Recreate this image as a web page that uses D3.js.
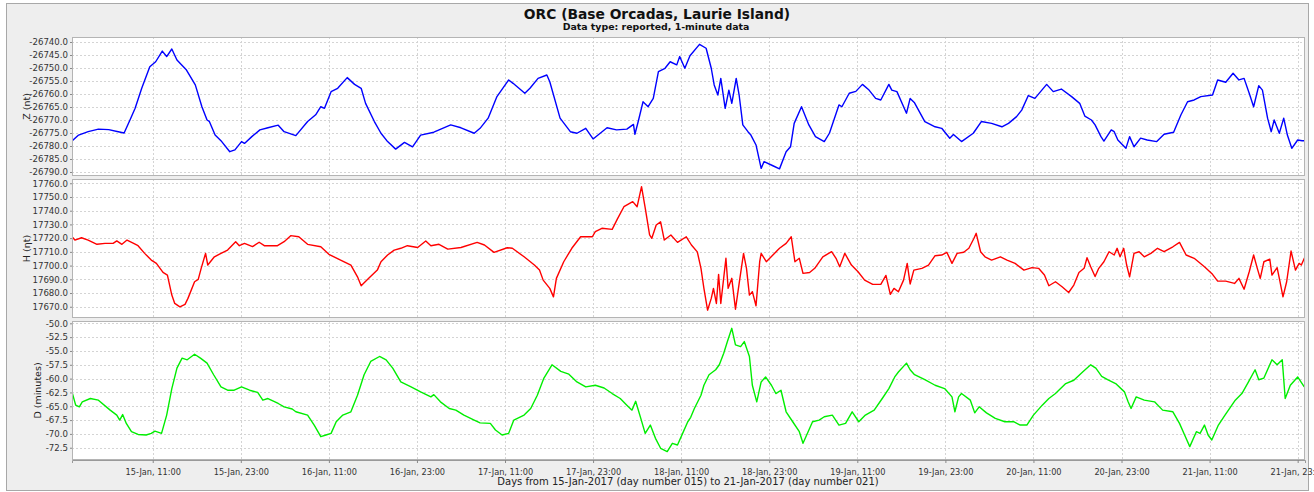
<!DOCTYPE html>
<html><head><meta charset="utf-8">
<script src="https://cdn.jsdelivr.net/npm/d3@7"></script>
<style>
html,body{margin:0;padding:0;background:#fff;}
svg{display:block;font-family:"DejaVu Sans",sans-serif;}
</style></head><body>
<svg id="chart" width="1314" height="492"></svg>
<script>
// ---------- DATA (hours after 15-Jan-2017 00:00 UTC, values) ----------
const titleText = "ORC (Base Orcadas, Laurie Island)";
const subtitleText = "Data type: reported, 1-minute data";
const xAxisTitle = "Days from 15-Jan-2017 (day number 015) to 21-Jan-2017 (day number 021)";
const seriesLabels = ["Z (nt)", "H (\u03b7t)", "D (minutes)"];
const xTickHours = [11,23,35,47,59,71,83,95,107,119,131,143,155,167];
const zTicks = [-26740,-26745,-26750,-26755,-26760,-26765,-26770,-26775,-26780,-26785,-26790];
const hTicks = [17760,17750,17740,17730,17720,17710,17700,17690,17680,17670];
const dTicks = [-50,-52.5,-55,-57.5,-60,-62.5,-65,-67.5,-70,-72.5];

const zHours = [0,0.9,2.2,3.6,5.0,6.3,7.1,7.9,8.6,9.5,10.6,11.4,12.3,12.9,13.6,14.3,15.6,16.8,17.7,18.4,18.7,19.5,20.4,21.5,22.2,23.1,23.5,24.5,25.6,26.7,28.1,28.9,30.5,32.1,33.2,33.9,34.4,35.3,36.2,37.5,38.5,39.4,40.0,41.2,42.1,43.0,44.1,45.3,46.4,47.5,49.3,51.6,53.0,54.8,55.6,56.7,57.9,59.5,60.1,61.7,62.4,63.5,64.7,65.1,66.5,67.9,68.8,70.0,71.0,72.9,74.2,75.6,76.5,76.7,77.2,77.8,78.5,79.2,79.9,80.8,81.5,82.4,82.8,83.5,84.2,85.5,86.4,87.1,87.5,88.0,88.4,89.0,89.5,89.9,90.5,90.9,91.4,92.1,92.5,93.2,93.9,94.3,95.5,96.4,97.3,97.9,98.4,99.4,100.4,101.3,102.5,103.2,104.5,104.9,105.9,106.8,107.7,108.6,109.5,110.2,111.3,111.7,112.4,113.7,114.2,114.8,116.2,117.6,118.5,119.6,120.1,121.2,122.8,123.9,125.3,126.7,127.6,128.7,129.4,130.3,131.2,132.8,133.7,134.8,136.2,137.3,138.0,138.9,139.4,140.2,140.6,141.6,142.0,142.5,143.6,144.1,144.7,145.6,146.5,147.8,148.8,150.1,151.1,152.0,152.9,153.8,155.4,156.1,157.2,158.2,159.0,159.7,160.4,161.0,161.7,162.2,162.9,163.4,163.8,164.5,165.1,165.6,166.2,167.0,167.6,168.0];
const zValues = [-26778.1,-26775.8,-26774.5,-26773.5,-26773.7,-26774.5,-26775,-26770,-26765.5,-26757.8,-26749.5,-26747.6,-26743.5,-26745.6,-26742.7,-26746.9,-26750.8,-26756.5,-26764.9,-26770,-26770.5,-26775.8,-26778.3,-26782.2,-26781.5,-26778.3,-26779,-26776.4,-26773.8,-26773,-26772,-26774.5,-26776,-26770.6,-26768,-26764.9,-26765.5,-26759.1,-26757.8,-26753.7,-26756.3,-26757.8,-26763.6,-26770.6,-26775.1,-26778.3,-26781.2,-26778.6,-26780.3,-26775.8,-26774.7,-26771.9,-26773,-26775.1,-26773.2,-26769.3,-26761,-26754.6,-26755.9,-26759.7,-26757.8,-26754,-26752.7,-26755.3,-26769.3,-26774.5,-26775.1,-26773.2,-26777.3,-26773,-26773.8,-26773.5,-26771.7,-26775.5,-26770,-26763,-26764.9,-26761.7,-26751.4,-26750.1,-26747.6,-26748.8,-26745.6,-26750.1,-26745.3,-26740.9,-26742.4,-26750.1,-26756.5,-26760.4,-26754,-26765.5,-26758.5,-26763.6,-26754,-26760.4,-26771.9,-26774.5,-26775.8,-26779.6,-26788.6,-26786,-26787.6,-26788.8,-26782.2,-26780.3,-26771.3,-26764.9,-26771.9,-26776.4,-26778.3,-26775.1,-26764.2,-26764.9,-26759.7,-26759,-26756.3,-26758.5,-26761.7,-26762.3,-26756.3,-26758.5,-26759.1,-26767.4,-26761.7,-26763.4,-26770.6,-26772.6,-26773.2,-26777,-26775.6,-26778.3,-26775.1,-26770.6,-26771.3,-26772.6,-26771.3,-26768.7,-26766.2,-26760.6,-26761.7,-26756.3,-26759.1,-26758.1,-26761,-26763.6,-26768.5,-26770,-26771.9,-26776.4,-26778.1,-26773.8,-26774.5,-26777.7,-26780.9,-26776.4,-26780.3,-26777,-26777.7,-26778.3,-26775.5,-26774.7,-26768,-26763,-26762.3,-26761,-26760.4,-26754.6,-26755.5,-26752,-26754.6,-26754,-26759.7,-26764.9,-26756.8,-26758.5,-26769.3,-26774.5,-26770,-26775.1,-26769.3,-26775.8,-26780.9,-26777.7,-26778,-26778];

const hHours = [0,0.4,1.3,2.2,3.4,4.5,5.6,6.1,6.8,7.5,8.4,9.0,9.9,10.8,11.5,12.4,13.0,13.6,14.0,14.7,15.4,15.8,16.7,17.2,17.6,18.2,18.5,19.4,20.3,21.2,22.3,22.8,23.5,24.6,25.5,26.2,28.0,28.9,29.8,30.9,32.1,33.9,35.0,36.6,38.0,38.9,39.4,40.5,41.6,42.1,43.0,43.9,44.8,45.7,47.1,48.2,48.9,50.0,51.2,53.0,55.2,56.2,57.5,59.3,60.0,61.6,63.0,63.7,64.2,65.1,65.6,66.0,67.0,68.1,69.3,70.9,71.3,72.2,73.6,74.3,75.2,76.4,77.0,77.6,78.1,78.7,79.0,79.6,80.2,80.7,81.6,82.5,83.7,84.4,85.2,85.7,86.1,86.6,87.1,87.4,87.8,88.1,88.4,89.1,89.4,89.9,90.4,91.0,91.5,91.9,92.3,92.7,93.2,93.7,93.9,94.6,95.5,96.4,97.3,98.0,98.5,99.1,99.6,100.5,101.2,102.3,103.5,104.1,104.6,105.3,106.2,107.1,108.0,109.1,110.2,110.9,111.5,112.0,112.6,113.3,113.8,114.2,114.7,115.8,116.7,117.6,118.5,119.2,119.9,120.6,121.5,122.2,122.9,123.2,123.8,124.4,125.3,126.5,127.4,128.5,129.7,130.8,131.7,132.5,133.1,134.0,134.9,135.8,136.5,137.2,137.9,138.3,138.8,139.4,139.9,140.6,141.3,142.0,142.4,142.8,143.3,143.7,144.1,144.7,145.4,146.1,147.0,147.9,148.8,150.0,150.9,151.8,152.9,154.3,155.4,156.1,157.2,158.4,159.0,159.7,160.4,161.0,161.5,161.9,162.4,163.2,163.5,164.2,164.6,165.0,165.5,166.1,166.7,167.2,167.5,168.0];
const hValues = [17721,17718.6,17720.3,17718.6,17715.5,17716.2,17716.2,17718,17715.5,17718.6,17716.2,17714.5,17708.9,17704,17701.6,17695,17693,17678.5,17672.4,17669.9,17671.7,17676.1,17688.2,17689.9,17698,17708.9,17700.4,17706.4,17708.9,17711.3,17717.4,17714.5,17716.2,17713.8,17717,17714.5,17714.5,17717.4,17721.8,17721,17715.5,17713.7,17708.2,17704,17700.4,17691.8,17685.3,17691.1,17696.7,17702.8,17707.7,17711.3,17712.6,17714.5,17713.2,17717.9,17714.5,17715.5,17712,17713.2,17716.9,17715,17709.6,17713,17712.6,17706.4,17700.4,17696.7,17689.4,17683.4,17677.2,17690.7,17702.8,17712.6,17721,17721,17724.7,17727.2,17726.4,17733.9,17742.9,17746.6,17742.9,17757.5,17742,17722.3,17719.9,17729.6,17731.9,17718.6,17722.3,17716.9,17721,17715,17710,17698,17683.4,17667.5,17676.1,17683.4,17672.4,17693.6,17672.4,17705.3,17683.4,17690.7,17668.2,17690.7,17708.9,17698,17678.5,17681,17670.7,17702.8,17708.9,17702.8,17707.7,17712.6,17716.2,17721,17702.8,17705.3,17694.3,17695,17698,17706.4,17710.1,17705.3,17699.2,17708.9,17700.4,17695.5,17689.4,17686.3,17686.3,17692.8,17679,17683.4,17680.9,17689.4,17701.6,17686.6,17696.7,17698,17700.4,17707.2,17707.7,17709.7,17701.6,17708.9,17709.7,17712.6,17719.9,17723.5,17710.1,17706.4,17704,17706.4,17704,17701.6,17696.7,17698.5,17698,17693.1,17685.3,17688.2,17684.6,17680.4,17685.8,17695,17698,17705.7,17699.2,17692,17698,17702.8,17710.1,17707.7,17712.6,17706.4,17712.6,17700.4,17691.8,17708.9,17710.1,17706.4,17708.9,17712.6,17710.1,17713.7,17716.9,17707.7,17705.3,17699.2,17693.6,17688.7,17688.7,17687,17690.7,17682.8,17695.5,17707.7,17698,17690.7,17702.8,17704.7,17693.1,17698.5,17688.2,17677.2,17688.2,17710.6,17696.7,17701.6,17700.4,17706.4];

const dHours = [0,0.5,1.0,1.4,2.5,3.6,5.2,6.1,6.5,6.9,7.4,8.1,9.0,10.1,10.8,11.3,12.2,12.9,13.6,14.3,15.0,15.7,16.7,17.5,18.4,19.3,20.3,21.2,22.1,23.1,24.2,25.3,26.0,26.7,28.1,28.9,30.0,30.5,32.1,33.0,33.9,34.6,35.3,36.0,36.9,38.0,38.9,39.8,40.7,41.9,42.8,43.7,44.8,46.2,47.5,48.9,49.3,50.2,51.4,52.3,53.4,54.8,55.6,57.0,57.7,58.6,59.5,60.2,61.6,62.5,63.4,64.3,65.4,66.6,67.7,68.8,70.0,71.3,72.5,73.6,74.7,75.6,76.3,76.8,77.5,78.1,78.8,79.5,80.2,81.1,81.8,82.5,83.2,83.9,84.3,84.8,85.7,86.1,86.8,87.7,88.2,88.8,89.3,89.9,90.4,91.1,91.6,92.3,92.7,93.3,93.9,94.5,95.3,95.9,96.6,97.3,98.2,99.1,99.6,100.3,100.9,101.8,102.5,103.6,104.5,105.4,106.3,107.2,108.1,109.3,110.4,111.3,112.1,112.6,113.7,114.2,114.8,116.2,117.6,118.9,119.9,120.3,120.8,121.2,122.4,123.0,123.6,124.6,125.8,127.1,128.3,129.2,130.1,131.0,132.2,133.1,134.0,135.4,136.5,137.7,138.8,139.5,140.3,141.1,142.2,143.4,143.9,144.3,145.0,146.1,147.5,148.6,150.0,150.9,151.6,152.3,153.2,153.7,154.3,154.8,155.3,156.2,157.1,158.5,159.4,160.3,161.2,161.7,162.4,163.5,164.2,164.9,165.3,166.0,167.0,167.9];
const dValues = [-62.4,-64.8,-65.1,-64.2,-63.6,-63.9,-65.7,-66.6,-67.5,-66.5,-68.1,-69.6,-70.1,-70.2,-69.9,-69.5,-69.9,-66.6,-61.8,-58.1,-56.3,-56.6,-55.6,-56.3,-57.2,-59.3,-61.5,-62.1,-62.1,-61.5,-62.1,-62.5,-63.9,-63.6,-64.5,-65.1,-65.5,-66.0,-66.6,-68.4,-70.5,-70.2,-69.9,-67.8,-66.6,-66.0,-63.0,-59.3,-56.9,-56.0,-56.6,-58.1,-60.6,-61.5,-62.4,-63.3,-62.9,-64.2,-65.4,-65.7,-66.6,-67.5,-68.0,-68.1,-69.3,-70.2,-69.9,-67.5,-66.6,-65.4,-63.0,-59.9,-57.5,-58.7,-59.2,-60.6,-61.5,-61.2,-61.7,-62.7,-63.6,-64.8,-65.7,-64.1,-67.2,-69.9,-68.4,-70.8,-72.6,-73.2,-71.7,-72.0,-69.9,-67.8,-67.0,-65.4,-63.0,-61.2,-59.3,-58.4,-57.5,-55.4,-53.3,-50.9,-53.9,-54.2,-53.3,-56.0,-61.2,-64.2,-60.6,-59.7,-61.2,-62.7,-62.1,-66.0,-67.8,-69.6,-71.7,-69.6,-67.8,-67.5,-66.9,-66.6,-68.4,-68.1,-66.0,-67.8,-66.6,-65.7,-63.6,-61.8,-59.7,-58.8,-57.2,-58.4,-59.3,-60.2,-61.2,-61.8,-63.3,-66.0,-63.3,-62.7,-63.9,-66.2,-65.1,-66.2,-67.2,-67.8,-67.8,-68.4,-68.4,-66.6,-64.8,-63.6,-62.7,-60.9,-60.3,-58.8,-57.5,-58.1,-59.6,-60.2,-60.9,-62.4,-64.2,-65.4,-63.3,-63.9,-64.2,-65.7,-66.0,-68.1,-70.2,-72.3,-69.6,-69.9,-68.4,-70.2,-71.1,-68.4,-66.6,-63.9,-62.7,-60.6,-58.4,-60.2,-59.9,-56.6,-57.5,-56.6,-63.6,-61.2,-59.7,-61.5];

// ---------- LAYOUT ----------
const plotLeft = 72, plotRight = 1305;
const startMs = Date.UTC(2017, 0, 15, 0, 0);
const hourMs = 3600 * 1000;
const toDate = h => new Date(startMs + h * hourMs);

const svg = d3.select("#chart");

// outer chart background
svg.append("rect").attr("x", 6.5).attr("y", 3.5).attr("width", 1302).attr("height", 487)
  .attr("fill", "#eeeeee").attr("stroke", "#a8a8a8");

svg.append("text").attr("x", 657).attr("y", 18.5).attr("text-anchor", "middle")
  .attr("font-weight", "bold").attr("font-size", 13.8).attr("fill", "#111").text(titleText);
svg.append("text").attr("x", 656).attr("y", 30).attr("text-anchor", "middle")
  .attr("font-weight", "bold").attr("font-size", 9.4).attr("fill", "#111").text(subtitleText);

const x = d3.scaleUtc().domain([toDate(0), toDate(168)]).range([plotLeft, plotRight]);
const xTickDates = xTickHours.map(toDate);
const fmtX = d3.utcFormat("%d-%b, %H:%M");

const panels = [
  { hours: zHours, values: zValues, ticks: zTicks, domain: [-26791.54, -26738.08], top: 37, bottom: 176, label: seriesLabels[0], color: "#0000ff", labelX: 30 },
  { hours: hHours, values: hValues, ticks: hTicks, domain: [17661.8, 17763.1], top: 179, bottom: 318, label: seriesLabels[1], color: "#ff0000", labelX: 30 },
  { hours: dHours, values: dValues, ticks: dTicks, domain: [-74.72, -49.58], top: 321, bottom: 460, label: seriesLabels[2], color: "#00ee00", labelX: 40.5 }
];

panels.forEach((p, i) => {
  const y = d3.scaleLinear().domain(p.domain).range([p.bottom, p.top]);
  const g = svg.append("g");
  g.append("rect").attr("x", plotLeft).attr("y", p.top).attr("width", plotRight - plotLeft)
    .attr("height", p.bottom - p.top).attr("fill", "#ffffff");

  // grid
  g.append("g").selectAll("line").data(p.ticks).join("line")
    .attr("x1", plotLeft).attr("x2", plotRight)
    .attr("y1", d => Math.round(y(d)) + 0.5).attr("y2", d => Math.round(y(d)) + 0.5)
    .attr("stroke", "#d4d4d4").attr("stroke-dasharray", "2,2");
  g.append("g").selectAll("line").data(xTickDates).join("line")
    .attr("x1", d => Math.round(x(d)) + 0.5).attr("x2", d => Math.round(x(d)) + 0.5)
    .attr("y1", p.top).attr("y2", p.bottom)
    .attr("stroke", "#d4d4d4").attr("stroke-dasharray", "2,2");

  // y axis
  const ya = d3.axisLeft(y).tickValues(p.ticks).tickSize(2).tickPadding(2).tickFormat(d => d.toFixed(1));
  const yg = g.append("g").attr("transform", `translate(${plotLeft},0)`).call(ya);
  yg.select(".domain").remove();
  yg.selectAll(".tick line").attr("stroke", "#888");
  yg.selectAll(".tick text").attr("font-size", 8.6).attr("fill", "#333").attr("font-family", "DejaVu Sans");

  // line
  const pts = p.hours.map((h, k) => [toDate(h), p.values[k]]);
  const clipId = "clip" + i;
  svg.append("clipPath").attr("id", clipId).append("rect")
    .attr("x", plotLeft).attr("y", p.top).attr("width", plotRight - plotLeft).attr("height", p.bottom - p.top);
  g.append("path").datum(pts).attr("clip-path", `url(#${clipId})`)
    .attr("fill", "none").attr("stroke", p.color).attr("stroke-width", 1.4)
    .attr("stroke-linejoin", "round")
    .attr("d", d3.line().x(d => x(d[0])).y(d => y(d[1])));

  // outline
  g.append("rect").attr("x", plotLeft + 0.5).attr("y", p.top + 0.5).attr("width", plotRight - plotLeft - 1)
    .attr("height", p.bottom - p.top - 1).attr("fill", "none").attr("stroke", "#b4b4b4");

  // label
  g.append("text").attr("transform", `translate(${p.labelX},${(p.top + p.bottom) / 2}) rotate(-90)`)
    .attr("text-anchor", "middle").attr("font-size", 9.5).attr("fill", "#222").text(p.label);
});

// x axis
const xa = d3.axisBottom(x).tickValues(xTickDates).tickSize(3).tickPadding(6).tickFormat(fmtX);
const xg = svg.append("g").attr("transform", `translate(0,460)`).call(xa);
xg.select(".domain").attr("stroke", "#999");
xg.selectAll(".tick line").attr("stroke", "#888");
xg.selectAll(".tick text").attr("font-size", 8.2).attr("fill", "#333").attr("font-family", "DejaVu Sans");

svg.append("text").attr("x", 688).attr("y", 484.5).attr("text-anchor", "middle")
  .attr("font-size", 10).attr("fill", "#222").text(xAxisTitle);
</script>
</body></html>
